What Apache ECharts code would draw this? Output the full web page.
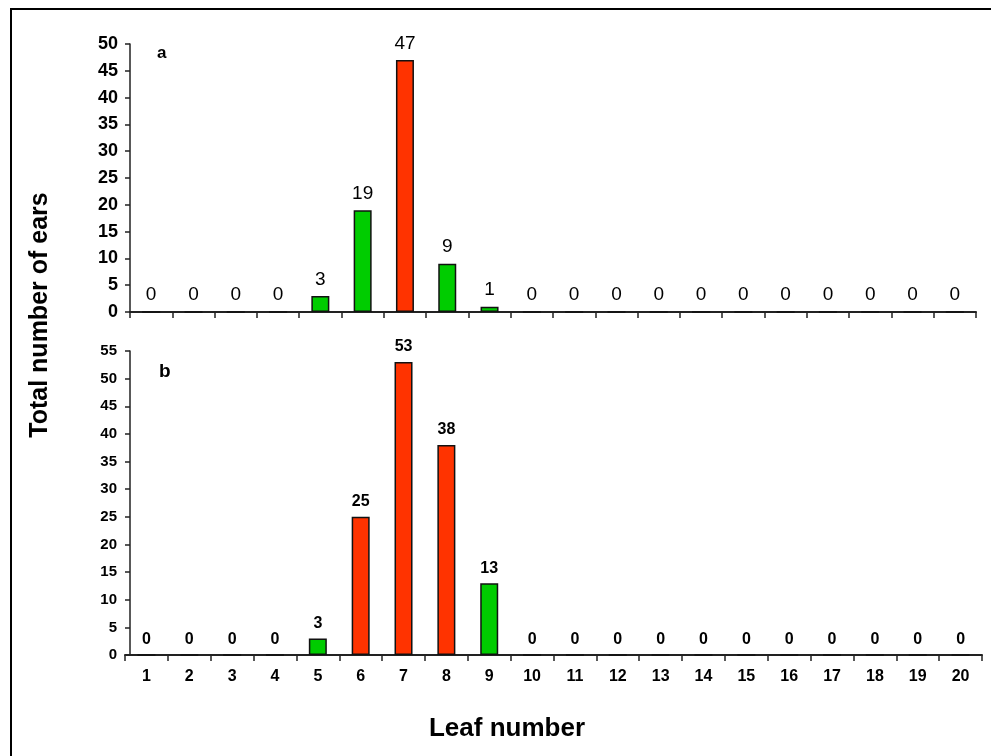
<!DOCTYPE html>
<html><head><meta charset="utf-8">
<script src="https://cdn.jsdelivr.net/npm/echarts@6/dist/echarts.min.js"></script>
<style>html,body{margin:0;padding:0;background:#fff}#c{width:991px;height:756px}</style>
</head><body><div id="c"></div>
<script>
const categories = ['1','2','3','4','5','6','7','8','9','10','11','12','13','14','15','16','17','18','19','20'];
const valuesA = [0,0,0,0,3,19,47,9,1,0,0,0,0,0,0,0,0,0,0,0];
const valuesB = [0,0,0,0,3,25,53,38,13,0,0,0,0,0,0,0,0,0,0,0];
const colorKeyA = ['g','g','g','g','g','g','r','g','g','g','g','g','g','g','g','g','g','g','g','g'];
const colorKeyB = ['g','g','g','g','g','r','r','r','g','g','g','g','g','g','g','g','g','g','g','g'];
const GREEN = '#00CC00', RED = '#FF3300';
const FONT = '"Liberation Sans", Arial, sans-serif';

function toData(vals, keys){
  return vals.map((v,i)=>({value:v,itemStyle:{color: keys[i]==='r'?RED:GREEN}}));
}
const chart = echarts.init(document.getElementById('c'), null, {renderer:'canvas'});
chart.setOption({
  animation:false,
  backgroundColor:'#fff',
  textStyle:{fontFamily:FONT},
  graphic:[
    {type:'rect', shape:{x:11,y:9,width:1200,height:1000}, style:{fill:null, stroke:'#000', lineWidth:2}, z:100},
    {type:'text', left:157, top:45, style:{text:'a', font:'bold 17px '+FONT, fill:'#000'}},
    {type:'text', left:159, top:362, style:{text:'b', font:'bold 19px '+FONT, fill:'#000'}},
    {type:'text', x:507, y:729, style:{text:'Leaf number', font:'bold 26px '+FONT, fill:'#000', align:'center', verticalAlign:'middle'}},
    {type:'text', x:40, y:315, rotation:Math.PI/2, style:{text:'Total number of ears', font:'bold 25px '+FONT, fill:'#000', align:'center', verticalAlign:'middle'}}
  ],
  grid:[
    {left:130, top:44, width:846, height:268},
    {left:125, top:351, width:857, height:304}
  ],
  xAxis:[
    {type:'category', gridIndex:0, data:categories,
     axisLine:{lineStyle:{color:'#222', width:2}},
     axisTick:{show:true, length:6, inside:false, lineStyle:{color:'#222', width:1.5}},
     axisLabel:{show:false}},
    {type:'category', gridIndex:1, data:categories,
     axisLine:{lineStyle:{color:'#222', width:2}},
     axisTick:{show:true, length:6, lineStyle:{color:'#222', width:1.5}},
     axisLabel:{show:true, color:'#000', fontWeight:'bold', fontSize:16, margin:14, fontFamily:FONT}}
  ],
  yAxis:[
    {type:'value', gridIndex:0, min:0, max:50, interval:5,
     axisLine:{show:true, lineStyle:{color:'#222', width:1.5}},
     axisTick:{show:true, length:5, lineStyle:{color:'#222', width:1.5}},
     splitLine:{show:false},
     axisLabel:{color:'#000', fontWeight:'bold', fontSize:18, margin:12, fontFamily:FONT}},
    {type:'value', gridIndex:1, min:0, max:55, interval:5, offset:-5,
     axisLine:{show:true, lineStyle:{color:'#222', width:1.5}},
     axisTick:{show:true, length:5, lineStyle:{color:'#222', width:1.5}},
     splitLine:{show:false},
     axisLabel:{color:'#000', fontWeight:'bold', fontSize:15, margin:13, fontFamily:FONT}}
  ],
  series:[
    {type:'bar', xAxisIndex:0, yAxisIndex:0, data:toData(valuesA,colorKeyA), barWidth:18,
     itemStyle:{borderColor:'#111', borderWidth:1.5},
     label:{show:true, position:'top', distance:7, color:'#000', fontSize:19, fontFamily:FONT}},
    {type:'bar', xAxisIndex:1, yAxisIndex:1, data:toData(valuesB,colorKeyB), barWidth:18,
     itemStyle:{borderColor:'#111', borderWidth:1.5},
     label:{show:true, position:'top', distance:7, color:'#000', fontSize:16, fontWeight:'bold', fontFamily:FONT}}
  ]
});
</script></body></html>
